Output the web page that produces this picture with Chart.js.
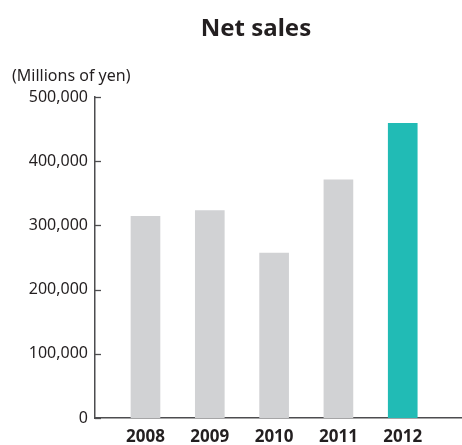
<!DOCTYPE html>
<html>
<head>
<meta charset="utf-8">
<script src="https://cdn.jsdelivr.net/npm/chart.js@4/dist/chart.umd.min.js"></script>
<style>
  html, body { margin: 0; padding: 0; background: #fff; }
  #wrap { width: 462px; height: 445px; position: relative; }
</style>
</head>
<body>
<div id="wrap"><canvas id="salesChart"></canvas></div>
<script>
const years = ['2008', '2009', '2010', '2011', '2012'];
const netSales = [314000, 323000, 257000, 371000, 459000];
const barColors = ['#d1d2d4', '#d1d2d4', '#d1d2d4', '#d1d2d4', '#21bbb5'];
const yTicks = [0, 100000, 200000, 300000, 400000, 500000];

const axisColor = '#4d4d4f';
const textColor = '#231f20';

// short tick marks on the inside of the y axis, plus the heading texts
const decorations = {
  id: 'decorations',
  afterDraw(chart) {
    const { ctx, chartArea, scales } = chart;
    ctx.save();
    ctx.strokeStyle = axisColor;
    ctx.lineWidth = 1.3;
    yTicks.forEach((v) => {
      const y = Math.round(scales.y.getPixelForValue(v)) + 0.5;
      ctx.beginPath();
      ctx.moveTo(chartArea.left, y);
      ctx.lineTo(chartArea.left + 6, y);
      ctx.stroke();
    });

    ctx.fillStyle = textColor;
    ctx.textBaseline = 'middle';
    ctx.textAlign = 'center';
    ctx.font = 'bold 24px "Noto Sans"';
    ctx.fillText('Net sales', 256, 29);

    ctx.textAlign = 'left';
    ctx.font = '16px "Noto Sans"';
    ctx.fillText('(Millions of yen)', 12, 76);
    ctx.restore();
  }
};

new Chart(document.getElementById('salesChart'), {
  type: 'bar',
  data: {
    datasets: [{
      data: netSales.map((v, i) => ({ x: i, y: v })),
      backgroundColor: barColors,
      barThickness: 29,
      borderWidth: 0
    }]
  },
  options: {
    responsive: true,
    maintainAspectRatio: false,
    animation: false,
    layout: { padding: { top: 97, right: 1, left: 0, bottom: 0 } },
    plugins: {
      legend: { display: false },
      title: { display: false },
      tooltip: { enabled: false }
    },
    scales: {
      x: {
        type: 'linear',
        offset: false,
        min: -0.785,
        max: 4.906,
        afterBuildTicks(axis) {
          axis.ticks = years.map((_, i) => ({ value: i }));
        },
        afterFit(axis) { axis.height = 27; },
        grid: { display: false, drawTicks: false, offset: false },
        border: { display: true, color: axisColor, width: 1.5 },
        ticks: {
          padding: 9,
          color: textColor,
          font: { family: 'Noto Sans', size: 17, weight: 'bold' },
          callback: (v) => years[v]
        }
      },
      y: {
        min: 0,
        max: 500000,
        afterBuildTicks(axis) {
          axis.ticks = yTicks.map((v) => ({ value: v }));
        },
        afterFit(axis) { axis.width = 95; },
        grid: { display: false, drawTicks: false },
        border: { display: true, color: axisColor, width: 1.5 },
        ticks: {
          padding: 7,
          color: textColor,
          font: { family: 'Noto Sans', size: 16 },
          callback: (v) => v.toLocaleString('en-US')
        }
      }
    }
  },
  plugins: [decorations]
});
</script>
</body>
</html>
